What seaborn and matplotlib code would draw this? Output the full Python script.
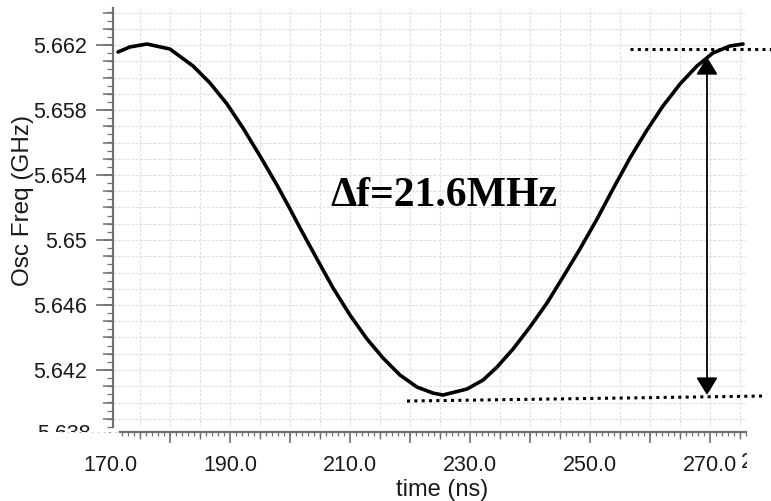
import numpy as np
import pandas as pd
import matplotlib
matplotlib.use("Agg")
import matplotlib.pyplot as plt
import seaborn as sns
from matplotlib.ticker import FixedLocator, MultipleLocator, FuncFormatter, NullFormatter
from matplotlib.transforms import Bbox

# ---------------- data ----------------
time_ns = [171.33, 173.33, 176.17, 180.00, 183.83, 186.67, 189.50, 192.17,
           195.00, 197.83, 200.00, 201.67, 204.50, 207.17, 210.00, 212.83,
           215.50, 218.33, 221.17, 223.83, 225.50, 229.50, 232.17, 234.50,
           237.17, 240.00, 242.83, 245.50, 248.33, 251.17, 253.83, 256.67,
           259.50, 262.17, 265.00, 267.83, 270.50, 273.33, 275.50]
osc_freq_ghz = [5.66157, 5.66188, 5.66206, 5.66175, 5.66071, 5.65966, 5.65837,
                5.65689, 5.65517, 5.65338, 5.65191, 5.65074, 5.64883, 5.64705,
                5.64538, 5.64391, 5.64274, 5.64169, 5.64095, 5.64058, 5.64046,
                5.64083, 5.64138, 5.64218, 5.64329, 5.64465, 5.64612, 5.64772,
                5.64945, 5.65129, 5.65314, 5.65505, 5.65677, 5.65825, 5.65960,
                5.66071, 5.66151, 5.66194, 5.66206]

x_tick_labels = [170, 190, 210, 230, 250, 270]
y_tick_labels = [5.638, 5.642, 5.646, 5.650, 5.654, 5.658, 5.662]

delta_text = "Δf=21.6MHz"
top_ref_x = [256.7, 281.0]
top_ref_y = [5.66174, 5.66174]
bot_ref_x = [219.5, 279.2]
bot_ref_y = [5.64009, 5.64040]
arrow_x = 269.5
arrow_y = [5.64046, 5.66126]

# ---------------- style ----------------
sns.set_theme(style="white")
plt.rcParams["font.family"] = ["Liberation Sans", "DejaVu Sans"]

W, H = 771, 501
fig = plt.figure(figsize=(W / 100, H / 100), dpi=100)
fig.patch.set_facecolor("white")

def xd(px):
    return 170 + (px - 110) / 6.0

def yd(py):
    return 5.662 - (py - 45) / 16250.0

SPINE = "#707070"
TXT = "#1a1a1a"
TICK_FS = 15.5

# main plotting axes (grid + curve + 0.001 ticks)
ax = fig.add_axes([113 / W, 1 - 427 / H, (746 - 113) / W, (427 - 8) / H])
ax.set_facecolor("white")
ax.set_xlim(xd(113), xd(746))
ax.set_ylim(yd(427), yd(8))
for s in ["top", "right", "bottom"]:
    ax.spines[s].set_visible(False)
ax.spines["left"].set_color(SPINE)
ax.spines["left"].set_linewidth(1.6)
ax.xaxis.set_major_locator(MultipleLocator(5))
ax.yaxis.set_major_locator(MultipleLocator(0.001))
ax.tick_params(axis="x", which="both", length=0, labelbottom=False)
ax.tick_params(axis="y", which="major", left=True, length=7, width=1.1,
               color=SPINE, labelleft=False)
ax.grid(True, which="major", color="#dedede", linewidth=0.8,
        linestyle=(0, (2.5, 1.5)))
ax.set_axisbelow(True)

df = pd.DataFrame({"time": time_ns, "freq": osc_freq_ghz})
sns.lineplot(data=df, x="time", y="freq", ax=ax, color="black",
             linewidth=2.6, sort=False, estimator=None, zorder=5)
ax.lines[-1].set_solid_joinstyle("round")
ax.set_xlabel("")
ax.set_ylabel("")

# reference dotted levels and double arrow
ax.plot(top_ref_x, top_ref_y, color="black", lw=2.2,
        linestyle=(0, (1, 1.4)), clip_on=False, zorder=6)
ax.plot(bot_ref_x, bot_ref_y, color="black", lw=2.2,
        linestyle=(0, (1, 1.4)), clip_on=False, zorder=6)
ax.annotate("", xy=(arrow_x, arrow_y[0]), xytext=(arrow_x, arrow_y[1]),
            arrowprops=dict(arrowstyle="<|-|>,head_length=0.9,head_width=0.55",
                            mutation_scale=12, lw=1.3, color="black",
                            shrinkA=0, shrinkB=0),
            zorder=7)
ax.text(xd(444), yd(206), delta_text, ha="center", va="baseline",
        fontsize=30, fontweight="bold", family=["Liberation Serif", "DejaVu Serif"],
        color="black", zorder=8)

# y ticks with labels (overlay axes)
axy = fig.add_axes(ax.get_position(), facecolor="none")
axy.set_xlim(ax.get_xlim())
axy.set_ylim(ax.get_ylim())
for s in axy.spines.values():
    s.set_visible(False)
axy.tick_params(axis="x", which="both", bottom=False, labelbottom=False)
axy.yaxis.set_major_locator(FixedLocator(y_tick_labels))
axy.yaxis.set_major_formatter(FuncFormatter(lambda v, p: f"{round(v, 3):g}"))
axy.yaxis.set_minor_locator(MultipleLocator(0.0005))
axy.yaxis.set_minor_formatter(NullFormatter())
axy.tick_params(axis="y", which="major", left=True, length=12, width=1.2,
                color=SPINE, labelsize=TICK_FS, labelcolor=TXT, pad=7)
axy.tick_params(axis="y", which="minor", left=True, length=4, width=0.9,
                color=SPINE)
axy.set_ylabel("Osc Freq (GHz)", fontsize=17.5, color=TXT, va="center")
axy.yaxis.set_label_coords(23 / W, 1 - 201 / H, transform=fig.transFigure)

# partially hidden lowest y label
t_low = fig.text(91 / W, 1 - 435 / H, f"{y_tick_labels[0]:g}", ha="right",
                 va="center", fontsize=TICK_FS, color=TXT)
t_low.set_clip_box(Bbox([[0, H - 432], [W, H]]))
t_low.set_clip_on(True)

# x axis (separate strip below the plot)
xa_left, xa_right = 60, 746
ax2 = fig.add_axes([xa_left / W, 1 - 432 / H, (xa_right - xa_left) / W, 1 / H],
                   facecolor="none")
ax2.set_xlim(xd(xa_left), xd(xa_right))
ax2.set_ylim(0, 1)
for s in ["top", "right", "left"]:
    ax2.spines[s].set_visible(False)
ax2.spines["bottom"].set_color(SPINE)
ax2.spines["bottom"].set_linewidth(1.6)
ax2.spines["bottom"].set_bounds(xd(120), xd(746))
ax2.yaxis.set_visible(False)
ax2.xaxis.set_major_locator(FixedLocator(x_tick_labels))
ax2.xaxis.set_major_formatter(FuncFormatter(lambda v, p: f"{v:.1f}"))
ax2.xaxis.set_minor_locator(MultipleLocator(1))
ax2.xaxis.set_minor_formatter(NullFormatter())
ax2.tick_params(axis="x", which="major", bottom=True, length=0,
                labelsize=TICK_FS, labelcolor=TXT, pad=16.5)
ax2.tick_params(axis="x", which="minor", bottom=True, length=3, width=0.9,
                color=SPINE)
ax2.set_xlabel("time (ns)", fontsize=17, color=TXT, va="center")
ax2.xaxis.set_label_coords(442 / W, 1 - 490 / H, transform=fig.transFigure)

ax2b = fig.add_axes(ax2.get_position(), facecolor="none")
ax2b.set_xlim(ax2.get_xlim())
ax2b.set_ylim(0, 1)
for s in ax2b.spines.values():
    s.set_visible(False)
ax2b.yaxis.set_visible(False)
ax2b.xaxis.set_major_locator(MultipleLocator(10))
ax2b.xaxis.set_minor_locator(MultipleLocator(5))
ax2b.xaxis.set_major_formatter(NullFormatter())
ax2b.xaxis.set_minor_formatter(NullFormatter())
ax2b.tick_params(axis="x", which="major", bottom=True, length=8, width=1.2,
                 color=SPINE)
ax2b.tick_params(axis="x", which="minor", bottom=True, length=5, width=1.0,
                 color=SPINE)
# white mask left of the x spine start (ticks there are not in the reference)
fig.patches.append(plt.Rectangle((0, 1 - 445 / H), 119 / W, 12 / H,
                                 transform=fig.transFigure, facecolor="white",
                                 edgecolor="none", zorder=10))

# partially visible label at the right edge
t_r = fig.text(741 / W, 1 - 463 / H, "2", ha="left", va="center",
               fontsize=TICK_FS, color=TXT)
t_r.set_clip_box(Bbox([[0, 0], [747, H]]))
t_r.set_clip_on(True)

fig.savefig("out.png", dpi=100, facecolor="white")
